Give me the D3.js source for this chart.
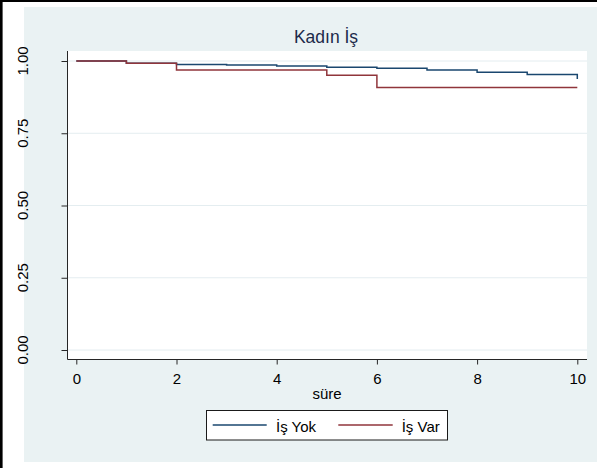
<!DOCTYPE html>
<html>
<head>
<meta charset="utf-8">
<script src="https://cdn.jsdelivr.net/npm/d3@7/dist/d3.min.js"></script>
<style>
  html, body { margin: 0; padding: 0; background: #ffffff; }
  svg { display: block; }
  text { font-family: "Liberation Sans", Arial, sans-serif; }
</style>
</head>
<body>
<svg id="chart" width="597" height="468"></svg>
<script>
// Kaplan–Meier survival estimates by women's employment status
const chartTitle = "Kadın İş";
const xLabel = "süre";
const seriesNames = ["İş Yok", "İş Var"];
const seriesColors = ["#1a476f", "#90353b"];

// İş Yok (not working)
const timesYok = [0, 1, 2, 3, 4, 5, 6, 7, 8, 9, 10];
const survYok  = [1.000, 0.992, 0.988, 0.986, 0.983, 0.978, 0.975, 0.969, 0.961, 0.953, 0.938];

// İş Var (working)
const timesVar = [0, 1, 2, 5, 6, 10];
const survVar  = [1.000, 0.992, 0.969, 0.951, 0.908, 0.908];

const xTicks = [0, 2, 4, 6, 8, 10];
const yTicks = [0, 0.25, 0.5, 0.75, 1];
const yTickLabels = ["0.00", "0.25", "0.50", "0.75", "1.00"];

const svg = d3.select("#chart");
const W = 597, H = 468;

// page frame (top and left rules)
svg.append("rect").attr("x", 0).attr("y", 0).attr("width", W).attr("height", 2).attr("fill", "#000");
svg.append("rect").attr("x", 0).attr("y", 0).attr("width", 2.6).attr("height", H).attr("fill", "#000");

// graph region
svg.append("rect").attr("x", 24).attr("y", 7).attr("width", W - 24).attr("height", 455).attr("fill", "#eaf2f3");

// plot region
const plot = { left: 67.5, right: 587, top: 51, bottom: 359.5 };
svg.append("rect")
  .attr("x", plot.left).attr("y", plot.top)
  .attr("width", plot.right - plot.left).attr("height", plot.bottom - plot.top)
  .attr("fill", "#ffffff");

const x = d3.scaleLinear().domain([0, 10]).range([76.3, 577.3]);
const y = d3.scaleLinear().domain([0, 1]).range([350, 61]);

// horizontal grid lines
svg.append("g").selectAll("line").data(yTicks).join("line")
  .attr("x1", plot.left).attr("x2", plot.right)
  .attr("y1", d => y(d)).attr("y2", d => y(d))
  .attr("stroke", "#e4edf0").attr("stroke-width", 1);

// survival step curves
const line = d3.line().x(d => x(d[0])).y(d => y(d[1])).curve(d3.curveStepAfter);
const series = [
  d3.zip(timesYok, survYok),
  d3.zip(timesVar, survVar)
];
svg.append("g").selectAll("path").data(series).join("path")
  .attr("d", line)
  .attr("fill", "none")
  .attr("stroke", (d, i) => seriesColors[i])
  .attr("stroke-width", 1.5);

// axes
const axisColor = "#262626";
const xAxis = svg.append("g")
  .attr("transform", `translate(0,${plot.bottom})`)
  .call(d3.axisBottom(x).tickValues(xTicks).tickSize(5).tickPadding(9).tickFormat(d3.format("d")));
xAxis.select(".domain").remove();
xAxis.selectAll(".tick line").attr("stroke", axisColor);
xAxis.selectAll(".tick text")
  .attr("fill", "#000").attr("font-size", 15)
  .attr("font-family", "Liberation Sans, Arial, sans-serif");

const yAxis = svg.append("g")
  .attr("transform", `translate(${plot.left},0)`)
  .call(d3.axisLeft(y).tickValues(yTicks).tickSize(6).tickFormat(""));
yAxis.select(".domain").remove();
yAxis.selectAll(".tick line").attr("stroke", axisColor);

// rotated y tick labels
svg.append("g").selectAll("text").data(yTicks).join("text")
  .attr("transform", d => `translate(22.5,${y(d)}) rotate(-90)`)
  .attr("text-anchor", "middle")
  .attr("dy", "0.35em")
  .attr("font-size", 15)
  .attr("fill", "#000")
  .text((d, i) => yTickLabels[i]);

// axis lines
svg.append("line")
  .attr("x1", plot.left).attr("x2", plot.left)
  .attr("y1", plot.top).attr("y2", plot.bottom)
  .attr("stroke", axisColor).attr("stroke-width", 1);
svg.append("line")
  .attr("x1", plot.left).attr("x2", plot.right)
  .attr("y1", plot.bottom).attr("y2", plot.bottom)
  .attr("stroke", axisColor).attr("stroke-width", 1);

// title
svg.append("text")
  .attr("x", 326).attr("y", 43.3)
  .attr("text-anchor", "middle")
  .attr("font-size", 17.5)
  .attr("fill", "#1c2a4a")
  .text(chartTitle);

// x axis title
svg.append("text")
  .attr("x", 327).attr("y", 399)
  .attr("text-anchor", "middle")
  .attr("font-size", 15)
  .attr("fill", "#000")
  .text(xLabel);

// legend
const legend = svg.append("g");
legend.append("rect")
  .attr("x", 206.5).attr("y", 410.5).attr("width", 241).attr("height", 29.5)
  .attr("fill", "#ffffff").attr("stroke", "#1a1a1a").attr("stroke-width", 1);
const legendItems = [
  { x1: 212.7, x2: 266.7, tx: 276 },
  { x1: 338.3, x2: 392.7, tx: 401.7 }
];
legend.selectAll("line").data(legendItems).join("line")
  .attr("x1", d => d.x1).attr("x2", d => d.x2)
  .attr("y1", 425).attr("y2", 425)
  .attr("stroke", (d, i) => seriesColors[i]).attr("stroke-width", 1.5);
legend.selectAll("text").data(legendItems).join("text")
  .attr("x", d => d.tx).attr("y", 431.5)
  .attr("font-size", 15)
  .attr("fill", "#000")
  .text((d, i) => seriesNames[i]);
</script>
</body>
</html>
